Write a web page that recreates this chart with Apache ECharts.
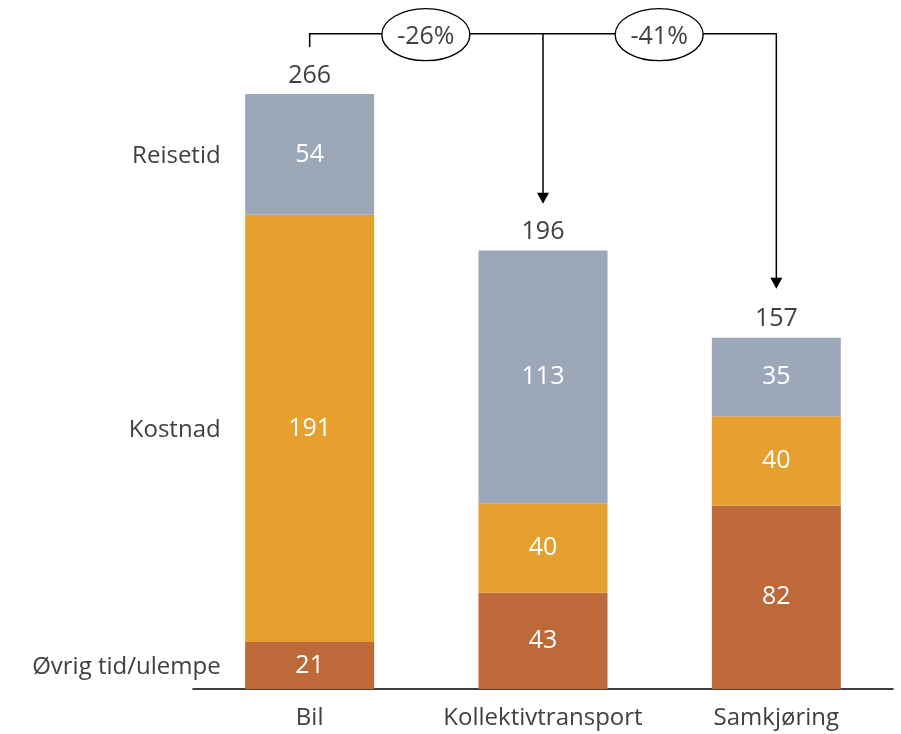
<!DOCTYPE html>
<html>
<head>
<meta charset="utf-8">
<script src="https://cdn.jsdelivr.net/npm/echarts@6/dist/echarts.min.js"></script>
<style>
  html, body { margin: 0; padding: 0; background: #fff; }
  #chart { width: 901px; height: 734px; }
</style>
</head>
<body>
<div id="chart"></div>
<script>
const categories = ['Bil', 'Kollektivtransport', 'Samkjøring']
const ovrig = [21, 43, 82]
const kostnad = [191, 40, 40]
const reisetid = [54, 113, 35]
const totals = [266, 196, 157]
const changes = ['-26%', '-41%']

const textColor = '#404040'
const font = 'Open Sans'

const chart = echarts.init(document.getElementById('chart'))

function segment(name, data, color) {
  return {
    name: name,
    type: 'bar',
    stack: 'sum',
    barWidth: 129,
    data: data,
    itemStyle: { color: color },
    label: {
      show: true,
      position: 'inside',
      color: '#fff',
      fontSize: 25,
      fontFamily: font
    }
  }
}

chart.setOption({
  animation: false,
  grid: { left: 193, right: 8, top: 18, bottom: 45 },
  xAxis: {
    type: 'category',
    data: categories,
    axisLine: { lineStyle: { color: '#000', width: 1.5 } },
    axisTick: { show: false },
    axisLabel: { interval: 0, color: textColor, fontSize: 24, fontFamily: font, margin: 17 }
  },
  yAxis: {
    type: 'value',
    min: 0,
    max: 300,
    show: false,
    splitLine: { show: false }
  },
  series: [
    segment('Øvrig tid/ulempe', ovrig, '#BE693A'),
    segment('Kostnad', kostnad, '#E5A02F'),
    segment('Reisetid', reisetid, '#9CA8B8'),
    {
      name: 'total',
      type: 'bar',
      stack: 'sum',
      barWidth: 129,
      data: [0, 0, 0],
      itemStyle: { color: 'transparent' },
      label: {
        show: true,
        position: 'top',
        distance: 6,
        color: textColor,
        fontSize: 25,
        fontFamily: font,
        formatter: p => totals[p.dataIndex]
      }
    }
  ]
})

// side labels for Bil segments and the change bracket
const px = (c, v) => chart.convertToPixel({ gridIndex: 0 }, [c, v])
const names = ['Øvrig tid/ulempe', 'Kostnad', 'Reisetid']
const bilSegs = [ovrig[0], kostnad[0], reisetid[0]]
const graphics = []
let acc = 0
bilSegs.forEach((v, i) => {
  const p = px(0, acc + v / 2)
  acc += v
  graphics.push({
    type: 'text',
    x: p[0] - 64 - 25, y: p[1] + 2,
    style: {
      text: names[i], fill: textColor, fontSize: 24, fontFamily: font,
      align: 'right', verticalAlign: 'middle'
    }
  })
})

const lineY = px(0, 293)[1]
const b0 = px(0, 287)
const b1 = px(1, 217)
const b2 = px(2, 179)
const stroke = { stroke: '#000', lineWidth: 1.5, fill: null }
graphics.push({
  type: 'polyline',
  shape: { points: [[b0[0], b0[1]], [b0[0], lineY], [b2[0], lineY], [b2[0], b2[1] - 8]] },
  style: stroke
})
graphics.push({
  type: 'line',
  shape: { x1: b1[0], y1: lineY, x2: b1[0], y2: b1[1] - 8 },
  style: stroke
})
;[b1, b2].forEach(b => {
  graphics.push({
    type: 'polygon',
    shape: { points: [[b[0] - 6, b[1] - 11], [b[0] + 6, b[1] - 11], [b[0], b[1]]] },
    style: { fill: '#000' }
  })
})
;[[0, 1], [1, 2]].forEach((pair, i) => {
  const cx = (px(pair[0], 0)[0] + px(pair[1], 0)[0]) / 2 - 0.5
  graphics.push({
    type: 'ellipse',
    shape: { cx: cx, cy: lineY + 1, rx: 44, ry: 26 },
    style: { fill: '#fff', stroke: '#000', lineWidth: 1.4 }
  })
  graphics.push({
    type: 'text',
    x: cx, y: lineY + 3,
    style: {
      text: changes[i], fill: textColor, fontSize: 25, fontFamily: font,
      align: 'center', verticalAlign: 'middle'
    }
  })
})
chart.setOption({ graphic: graphics })
</script>
</body>
</html>
